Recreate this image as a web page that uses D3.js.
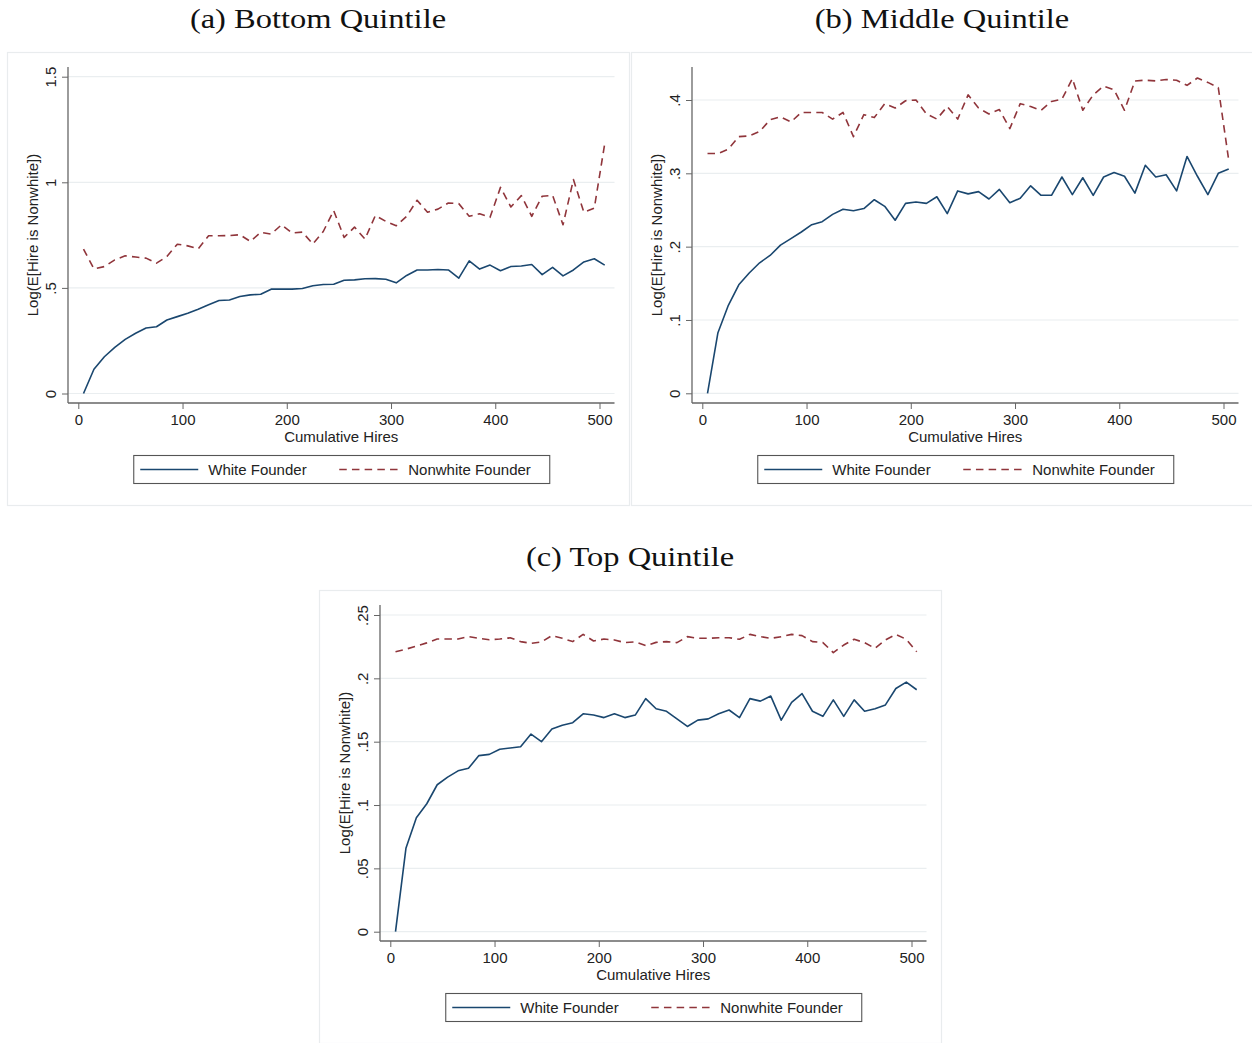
<!DOCTYPE html>
<html><head><meta charset="utf-8">
<script src="https://cdn.jsdelivr.net/npm/d3@7"></script>
<style>body{margin:0;background:#fff} svg{display:block}</style>
</head><body><svg id="chart" width="1252" height="1043"></svg>
<script>
// ---------- DATA ----------
const hires = [5,15,25,35,45,55,65,75,85,95,105,115,125,135,145,155,165,175,185,195,205,215,225,235,245,255,265,275,285,295,305,315,325,335,345,355,365,375,385,395,405,415,425,435,445,455,465,475,485,495,505];

const bottomWhite = [0,0.115,0.174,0.218,0.256,0.285,0.31,0.316,0.348,0.364,0.38,0.399,0.42,0.44,0.443,0.459,0.467,0.47,0.494,0.494,0.494,0.497,0.51,0.516,0.517,0.536,0.538,0.543,0.544,0.541,0.524,0.559,0.585,0.585,0.587,0.585,0.546,0.628,0.589,0.608,0.581,0.601,0.604,0.611,0.563,0.597,0.557,0.585,0.623,0.638,0.608];
const bottomNonwhite = [0.684,0.59,0.601,0.633,0.652,0.646,0.641,0.617,0.649,0.707,0.699,0.685,0.747,0.747,0.748,0.752,0.72,0.763,0.755,0.799,0.76,0.764,0.708,0.767,0.866,0.739,0.788,0.731,0.843,0.815,0.794,0.839,0.915,0.858,0.873,0.902,0.899,0.839,0.851,0.834,0.976,0.883,0.937,0.839,0.934,0.938,0.799,1.013,0.858,0.878,1.182];

const middleWhite = [0,0.0827,0.12,0.148,0.164,0.178,0.188,0.202,0.211,0.22,0.23,0.234,0.244,0.251,0.249,0.252,0.264,0.255,0.236,0.259,0.261,0.259,0.268,0.245,0.276,0.272,0.275,0.265,0.278,0.26,0.266,0.283,0.27,0.27,0.295,0.271,0.294,0.27,0.295,0.301,0.296,0.273,0.311,0.295,0.298,0.276,0.323,0.296,0.271,0.3,0.306];
const middleNonwhite = [0.327,0.327,0.333,0.35,0.351,0.357,0.373,0.377,0.37,0.383,0.383,0.383,0.374,0.383,0.35,0.38,0.376,0.395,0.389,0.399,0.4,0.381,0.374,0.391,0.374,0.407,0.389,0.381,0.387,0.361,0.395,0.391,0.386,0.398,0.401,0.429,0.386,0.407,0.419,0.414,0.386,0.426,0.427,0.426,0.428,0.427,0.42,0.43,0.424,0.417,0.318];

const topWhite = [0,0.0658,0.09,0.101,0.116,0.122,0.127,0.129,0.139,0.140,0.144,0.145,0.146,0.156,0.150,0.160,0.163,0.165,0.172,0.171,0.169,0.172,0.169,0.171,0.184,0.176,0.174,0.168,0.162,0.167,0.168,0.172,0.175,0.169,0.184,0.182,0.186,0.167,0.181,0.188,0.174,0.170,0.183,0.170,0.183,0.174,0.176,0.179,0.192,0.197,0.191];
const topNonwhite = [0.221,0.223,0.2255,0.228,0.231,0.231,0.231,0.233,0.2316,0.2305,0.231,0.232,0.229,0.2276,0.2287,0.2337,0.2316,0.229,0.2347,0.2295,0.231,0.2303,0.2282,0.2288,0.2258,0.2284,0.229,0.2282,0.2329,0.2316,0.2316,0.2321,0.2321,0.2308,0.2347,0.2329,0.2316,0.2329,0.2347,0.2337,0.229,0.2282,0.2203,0.2263,0.2308,0.2282,0.2237,0.2303,0.2347,0.2308,0.221];

const xTickValues = [0,100,200,300,400,500];
const xTickLabels = ["0","100","200","300","400","500"];
const bottomYTicks = [0,0.5,1,1.5];
const bottomYTickLabels = ["0",".5","1","1.5"];
const middleYTicks = [0,0.1,0.2,0.3,0.4];
const middleYTickLabels = ["0",".1",".2",".3",".4"];
const topYTicks = [0,0.05,0.1,0.15,0.2,0.25];
const topYTickLabels = ["0",".05",".1",".15",".2",".25"];

const panelTitles = ["(a) Bottom Quintile","(b) Middle Quintile","(c) Top Quintile"];
const seriesNames = ["White Founder","Nonwhite Founder"];
const xTitle = "Cumulative Hires";
const yTitle = "Log(E[Hire is Nonwhite])";

// ---------- LAYOUT / STYLE ----------
const colors = ["#1a476f", "#90353b"];
const dashes = [null, "7.5,5.2"];
const FW = 622, FH = 453;
const region = {left: 61, right: 607.5, top: 15, bottom: 351};
const xRange = [71.3, 592.5];
const panels = [
  {fx: 7,   fy: 52,  tx: 318, ty: 28,  y0: 341.5, yTop: 24.7, yDomTop: 1.5,  yt: bottomYTicks, ytl: bottomYTickLabels, series: [bottomWhite, bottomNonwhite], title: panelTitles[0]},
  {fx: 631, fy: 52,  tx: 942, ty: 28,  y0: 341.3, yTop: 48,   yDomTop: 0.4,  yt: middleYTicks, ytl: middleYTickLabels, series: [middleWhite, middleNonwhite], title: panelTitles[1]},
  {fx: 319, fy: 590, tx: 630, ty: 566, y0: 341.7, yTop: 25,   yDomTop: 0.25, yt: topYTicks,    ytl: topYTickLabels,    series: [topWhite, topNonwhite], title: panelTitles[2]}
];

const svg = d3.select("#chart");
svg.append("rect").attr("width",1252).attr("height",1043).attr("fill","#fff");
const sans = "'Liberation Sans', Arial, sans-serif";
const titleScale = 1.16;

panels.forEach(p => {
  // title
  const t = svg.append("text")
    .attr("x", p.tx).attr("y", p.ty)
    .attr("text-anchor","middle")
    .attr("font-family","'Liberation Serif','Times New Roman',serif")
    .attr("font-size", 28).attr("fill","#111")
    .text(p.title);
  const w = t.node().getComputedTextLength();
  t.attr("textLength", w*titleScale).attr("lengthAdjust","spacingAndGlyphs");

  const g = svg.append("g").attr("transform",`translate(${p.fx},${p.fy})`);
  g.append("rect").attr("x",0.5).attr("y",0.5).attr("width",FW).attr("height",FH)
    .attr("fill","#fff").attr("stroke","#e9ecee").attr("stroke-width",1.2);

  const x = d3.scaleLinear().domain([0,500]).range(xRange);
  const y = d3.scaleLinear().domain([0,p.yDomTop]).range([p.y0,p.yTop]);

  // gridlines
  g.append("g").selectAll("line").data(p.yt).join("line")
    .attr("x1",region.left).attr("x2",region.right)
    .attr("y1",d=>y(d)).attr("y2",d=>y(d))
    .attr("stroke","#eaeef0").attr("stroke-width",1.2);

  // y axis
  const yAxis = d3.axisLeft(y).tickValues(p.yt).tickFormat((d,i)=>p.ytl[i]).tickSize(6).tickPadding(6);
  const ya = g.append("g").attr("transform",`translate(${region.left},0)`).call(yAxis);
  ya.select(".domain").remove();
  ya.selectAll(".tick line").attr("stroke","#666");
  ya.selectAll(".tick text")
    .attr("font-family",sans).attr("font-size",15).attr("fill","#222")
    .attr("x",null).attr("dy",null)
    .attr("text-anchor","middle")
    .attr("transform","translate(-12.5,0) rotate(-90)");
  g.append("line").attr("x1",region.left).attr("x2",region.left)
    .attr("y1",region.top).attr("y2",region.bottom)
    .attr("stroke","#666").attr("stroke-width",1.3);

  // x axis
  const xAxis = d3.axisBottom(x).tickValues(xTickValues).tickFormat((d,i)=>xTickLabels[i]).tickSize(6).tickPadding(5);
  const xa = g.append("g").attr("transform",`translate(0,${region.bottom})`).call(xAxis);
  xa.select(".domain").remove();
  xa.selectAll(".tick line").attr("stroke","#666");
  xa.selectAll(".tick text").attr("font-family",sans).attr("font-size",15).attr("fill","#222")
    .attr("y",null).attr("dy",null).attr("transform","translate(0,21.5)");
  g.append("line").attr("x1",region.left).attr("x2",region.right)
    .attr("y1",region.bottom).attr("y2",region.bottom)
    .attr("stroke","#666").attr("stroke-width",1.3);

  // axis titles
  const cx = (region.left+region.right)/2;
  g.append("text").attr("x",cx).attr("y",390).attr("text-anchor","middle")
    .attr("font-family",sans).attr("font-size",15).attr("fill","#222").text(xTitle);
  g.append("text").attr("text-anchor","middle")
    .attr("transform",`translate(31,${(region.top+region.bottom)/2}) rotate(-90)`)
    .attr("font-family",sans).attr("font-size",15).attr("fill","#222").text(yTitle);

  // lines
  const line = d3.line().x((d,i)=>x(hires[i])).y(d=>y(d));
  p.series.forEach((s,k)=>{
    g.append("path").datum(s).attr("d",line)
      .attr("fill","none").attr("stroke",colors[k]).attr("stroke-width",1.6)
      .attr("stroke-linejoin","round")
      .attr("stroke-dasharray",dashes[k]);
  });

  // legend
  const lw = 416, lh = 28;
  const lx = cx - lw/2, ly = 403;
  const lg = g.append("g").attr("transform",`translate(${lx},${ly})`);
  lg.append("rect").attr("x",0.5).attr("y",0.5).attr("width",lw).attr("height",lh)
    .attr("fill","#fff").attr("stroke","#555").attr("stroke-width",1.1);
  const items = [{x0:7,x1:65,tx:75},{x0:206,x1:266,tx:275}];
  items.forEach((it,k)=>{
    lg.append("line").attr("x1",it.x0).attr("x2",it.x1).attr("y1",lh/2+0.5).attr("y2",lh/2+0.5)
      .attr("stroke",colors[k]).attr("stroke-width",1.6).attr("stroke-dasharray",dashes[k]);
    lg.append("text").attr("x",it.tx).attr("y",lh/2+6)
      .attr("font-family",sans).attr("font-size",15).attr("fill","#222").text(seriesNames[k]);
  });
});
</script>
</body></html>
